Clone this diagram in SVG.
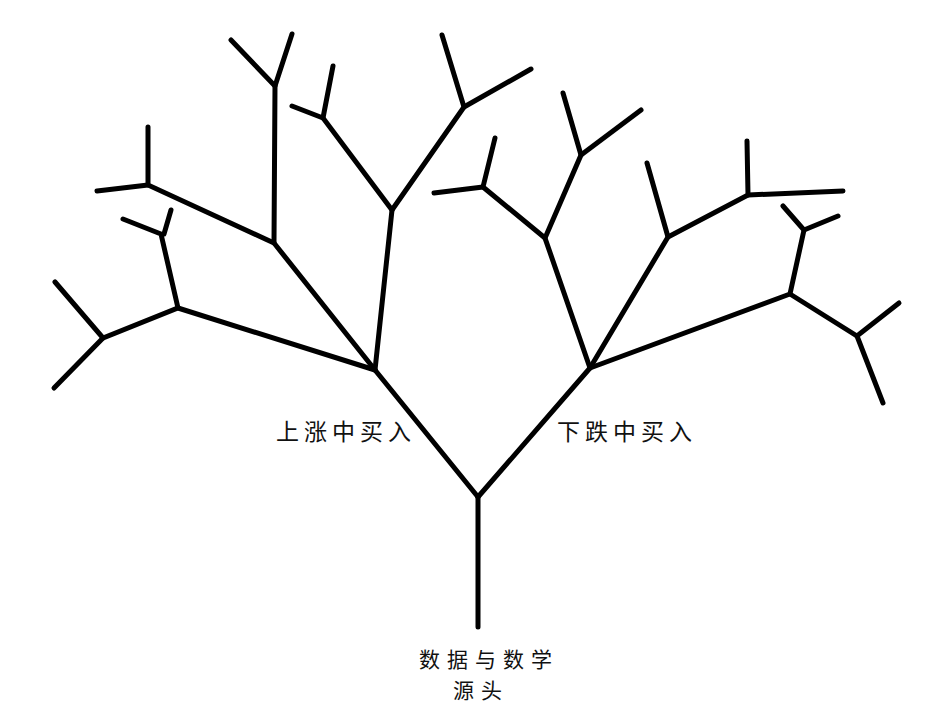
<svg xmlns="http://www.w3.org/2000/svg" width="932" height="707" viewBox="0 0 932 707">
<style>
.b{stroke:#000;stroke-width:5;stroke-linecap:round;fill:none}
.t{font-family:"Noto Sans CJK SC","Noto Sans",sans-serif;font-size:23px;fill:#111;letter-spacing:5px}
.r{font-family:"Noto Sans CJK SC","Noto Sans",sans-serif;font-size:21px;fill:#111;letter-spacing:7px}
</style>
<rect width="932" height="707" fill="#fff"/>
<g id="connectors" class="b">
<polyline points="478,627 478,497"/>
<polyline points="478,497 375,370"/>
<polyline points="478,497 590,368"/>
<!-- left hub -->
<polyline points="375,370 178,308 103,338 55,282"/>
<polyline points="103,338 54,388"/>
<polyline points="178,308 161,234 123,219"/>
<polyline points="164,234 171,210"/>
<polyline points="375,370 274,243 275,86 231,40"/>
<polyline points="275,86 292,34"/>
<polyline points="274,243 148,185 148,127"/>
<polyline points="148,185 97,191"/>
<polyline points="375,370 392,210 464,107 442,35"/>
<polyline points="464,107 531,69"/>
<polyline points="392,210 323,118 333,66"/>
<polyline points="323,118 292,106"/>
<!-- right hub -->
<polyline points="590,368 545,238 581,155 563,93"/>
<polyline points="581,155 641,110"/>
<polyline points="545,238 483,187 495,138"/>
<polyline points="483,187 434,193"/>
<polyline points="590,368 668,237 647,163"/>
<polyline points="668,237 748,195 747,141"/>
<polyline points="748,195 843,191"/>
<polyline points="590,368 790,294 804,230 783,206"/>
<polyline points="804,230 838,216"/>
<polyline points="790,294 857,336 899,303"/>
<polyline points="857,336 883,403"/>
</g>
<g id="label-up"><text class="t" x="276" y="440">上涨中买入</text></g>
<g id="label-down"><text class="t" x="557" y="440">下跌中买入</text></g>
<g id="label-root"><text class="r"><tspan x="419" y="667">数据与数学</tspan><tspan x="453" y="698">源头</tspan></text></g>
</svg>
